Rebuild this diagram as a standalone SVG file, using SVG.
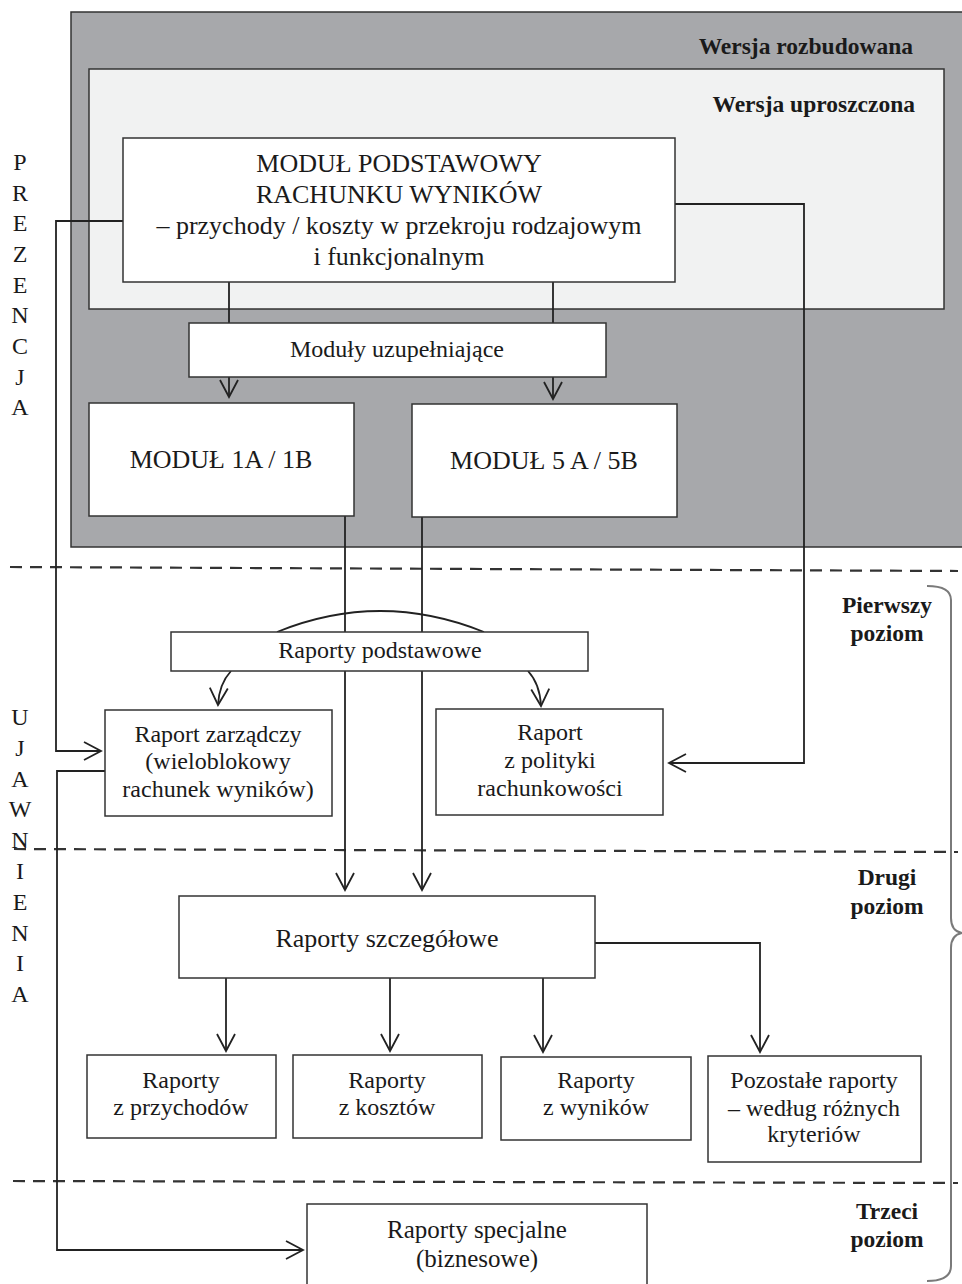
<svg xmlns="http://www.w3.org/2000/svg" width="962" height="1284" viewBox="0 0 962 1284">
  <style>
    text { font-family: "Liberation Serif", "Times New Roman", serif; fill: #1a1a1a; }
    .t24 { font-size: 24px; text-anchor: middle; }
    .t26 { font-size: 26px; text-anchor: middle; }
    .bold { font-size: 23.5px; font-weight: bold; }
    .box { fill: #ffffff; stroke: #333333; stroke-width: 1.5; }
    .wire { fill: none; stroke: #222222; stroke-width: 1.8; }
    .dash { fill: none; stroke: #333333; stroke-width: 2.2; stroke-dasharray: 12 8; }
    .side { font-size: 24px; text-anchor: middle; }
  </style>
  <defs>
    <marker id="arr" markerWidth="22" markerHeight="22" refX="18" refY="10" orient="auto" markerUnits="userSpaceOnUse">
      <path d="M1,1 L18,10 L1,19" fill="none" stroke="#222222" stroke-width="1.8"/>
    </marker>
  </defs>

  <!-- version frames -->
  <g id="wersja-rozbudowana">
    <rect x="71" y="12" width="895" height="535" fill="#a7a8ab" stroke="#333333" stroke-width="1.5"/>
    <text class="bold" x="913" y="54" text-anchor="end">Wersja rozbudowana</text>
  </g>
  <g id="wersja-uproszczona">
    <rect x="89" y="69" width="855" height="240" fill="#f1f2f2" stroke="#333333" stroke-width="1.5"/>
    <text class="bold" x="915" y="112" text-anchor="end">Wersja uproszczona</text>
  </g>

  <!-- level separators -->
  <g id="separators">
    <line class="dash" x1="10" y1="567" x2="958" y2="571"/>
    <line class="dash" x1="14" y1="849" x2="958" y2="852"/>
    <line class="dash" x1="13" y1="1181" x2="958" y2="1183"/>
  </g>

  <!-- side captions -->
  <g id="prezencja" class="side">
    <text x="20" y="170">P</text>
    <text x="20" y="201">R</text>
    <text x="20" y="231">E</text>
    <text x="20" y="262">Z</text>
    <text x="20" y="293">E</text>
    <text x="20" y="323">N</text>
    <text x="20" y="354">C</text>
    <text x="20" y="385">J</text>
    <text x="20" y="415">A</text>
  </g>
  <g id="ujawnienia" class="side">
    <text x="20" y="725">U</text>
    <text x="20" y="756">J</text>
    <text x="20" y="787">A</text>
    <text x="20" y="817">W</text>
    <text x="20" y="848">N</text>
    <text x="20" y="879">I</text>
    <text x="20" y="910">E</text>
    <text x="20" y="941">N</text>
    <text x="20" y="971">I</text>
    <text x="20" y="1002">A</text>
  </g>

  <g id="poziomy" class="bold" text-anchor="middle">
    <text x="887" y="613">Pierwszy</text>
    <text x="887" y="641">poziom</text>
    <text x="887" y="885">Drugi</text>
    <text x="887" y="914">poziom</text>
    <text x="887" y="1219">Trzeci</text>
    <text x="887" y="1247">poziom</text>
  </g>
  <path id="klamra" d="M927,586 Q951,586 951,600 L951,918 Q951,931 962,933 Q951,935 951,948 L951,1266 Q951,1281 927,1281" fill="none" stroke="#7a7a7a" stroke-width="2"/>

  <!-- connectors -->
  <g id="connectors">
    <path class="wire" d="M123,221 H56 V751 H101" marker-end="url(#arr)"/>
    <path class="wire" d="M675,204 H804 V763 H669" marker-end="url(#arr)"/>
    <line class="wire" x1="229" y1="282" x2="229" y2="323"/>
    <line class="wire" x1="553" y1="282" x2="553" y2="323"/>
    <line class="wire" x1="229" y1="377" x2="229" y2="397" marker-end="url(#arr)"/>
    <line class="wire" x1="553" y1="377" x2="553" y2="399" marker-end="url(#arr)"/>
    <line class="wire" x1="345" y1="516" x2="345" y2="890" marker-end="url(#arr)"/>
    <line class="wire" x1="422" y1="517" x2="422" y2="890" marker-end="url(#arr)"/>
    <path class="wire" d="M277,632 Q380,590 484,632"/>
    <path class="wire" d="M231,671 Q219,684 218,705" marker-end="url(#arr)"/>
    <path class="wire" d="M528,671 Q540,684 541,706" marker-end="url(#arr)"/>
    <path class="wire" d="M105,771 H57 V1250 H303" marker-end="url(#arr)"/>
    <line class="wire" x1="226" y1="978" x2="226" y2="1051" marker-end="url(#arr)"/>
    <line class="wire" x1="390" y1="978" x2="390" y2="1051" marker-end="url(#arr)"/>
    <line class="wire" x1="543" y1="978" x2="543" y2="1052" marker-end="url(#arr)"/>
    <path class="wire" d="M595,943 H760 V1052" marker-end="url(#arr)"/>
  </g>

  <!-- nodes -->
  <g id="modul-podstawowy">
    <rect class="box" x="123" y="138" width="552" height="144"/>
    <text class="t26" x="399" y="172">MODUŁ PODSTAWOWY</text>
    <text class="t26" x="399" y="203">RACHUNKU WYNIKÓW</text>
    <text class="t26" x="399" y="234">– przychody / koszty w przekroju rodzajowym</text>
    <text class="t26" x="399" y="265">i funkcjonalnym</text>
  </g>
  <g id="moduly-uzupelniajace">
    <rect class="box" x="189" y="323" width="417" height="54"/>
    <text class="t24" x="397" y="357">Moduły uzupełniające</text>
  </g>
  <g id="modul-1a">
    <rect class="box" x="89" y="403" width="265" height="113"/>
    <text class="t26" x="221" y="468">MODUŁ 1A / 1B</text>
  </g>
  <g id="modul-5a">
    <rect class="box" x="412" y="404" width="265" height="113"/>
    <text class="t26" x="544" y="469">MODUŁ 5 A / 5B</text>
  </g>
  <g id="raporty-podstawowe">
    <rect class="box" x="171" y="632" width="417" height="39"/>
    <text class="t24" x="380" y="658">Raporty podstawowe</text>
  </g>
  <g id="raport-zarzadczy">
    <rect class="box" x="105" y="710" width="227" height="106"/>
    <text class="t24" x="218" y="742">Raport zarządczy</text>
    <text class="t24" x="218" y="769">(wieloblokowy</text>
    <text class="t24" x="218" y="797">rachunek wyników)</text>
  </g>
  <g id="raport-polityki">
    <rect class="box" x="436" y="709" width="227" height="106"/>
    <text class="t24" x="550" y="740">Raport</text>
    <text class="t24" x="550" y="768">z polityki</text>
    <text class="t24" x="550" y="796">rachunkowości</text>
  </g>
  <g id="raporty-szczegolowe">
    <rect class="box" x="179" y="896" width="416" height="82"/>
    <text class="t26" x="387" y="947">Raporty szczegółowe</text>
  </g>
  <g id="raporty-przychodow">
    <rect class="box" x="87" y="1055" width="189" height="83"/>
    <text class="t24" x="181" y="1088">Raporty</text>
    <text class="t24" x="181" y="1115">z przychodów</text>
  </g>
  <g id="raporty-kosztow">
    <rect class="box" x="293" y="1055" width="189" height="83"/>
    <text class="t24" x="387" y="1088">Raporty</text>
    <text class="t24" x="387" y="1115">z kosztów</text>
  </g>
  <g id="raporty-wynikow">
    <rect class="box" x="501" y="1057" width="190" height="83"/>
    <text class="t24" x="596" y="1088">Raporty</text>
    <text class="t24" x="596" y="1115">z wyników</text>
  </g>
  <g id="pozostale-raporty">
    <rect class="box" x="708" y="1056" width="213" height="106"/>
    <text class="t24" x="814" y="1088">Pozostałe raporty</text>
    <text class="t24" x="814" y="1116">– według różnych</text>
    <text class="t24" x="814" y="1142">kryteriów</text>
  </g>
  <g id="raporty-specjalne">
    <rect class="box" x="307" y="1204" width="340" height="90"/>
    <text x="477" y="1238" style="font-size:25px;text-anchor:middle">Raporty specjalne</text>
    <text x="477" y="1267" style="font-size:25px;text-anchor:middle">(biznesowe)</text>
  </g>
</svg>
